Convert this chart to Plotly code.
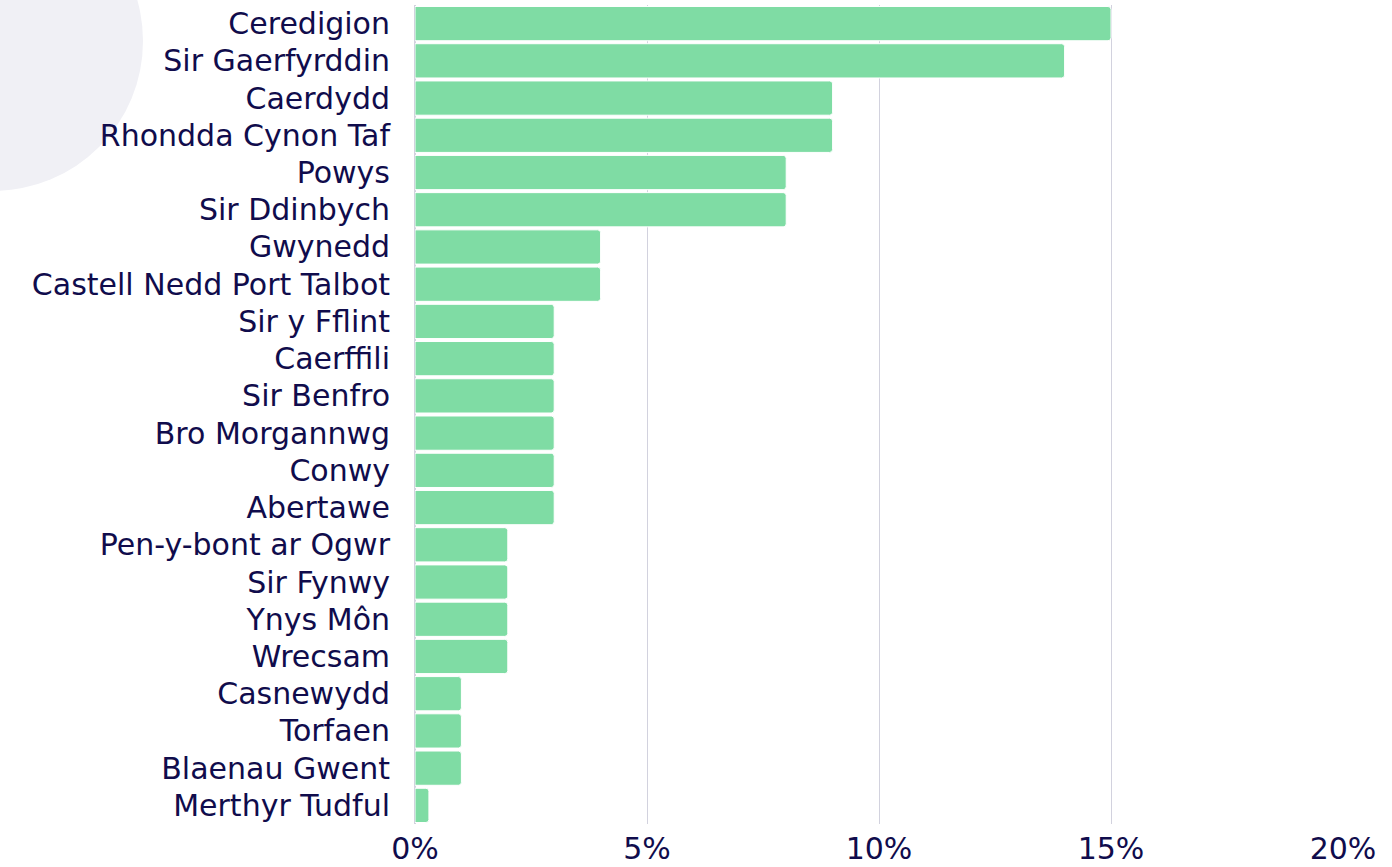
import plotly.graph_objects as go

# Welsh local authorities, top to bottom as shown
areas = [
    "Ceredigion", "Sir Gaerfyrddin", "Caerdydd", "Rhondda Cynon Taf", "Powys",
    "Sir Ddinbych", "Gwynedd", "Castell Nedd Port Talbot", "Sir y Fflint",
    "Caerffili", "Sir Benfro", "Bro Morgannwg", "Conwy", "Abertawe",
    "Pen-y-bont ar Ogwr", "Sir Fynwy", "Ynys Môn", "Wrecsam", "Casnewydd",
    "Torfaen", "Blaenau Gwent", "Merthyr Tudful",
]
share_pct = [15, 14, 9, 9, 8, 8, 4, 4, 3, 3, 3, 3, 3, 3, 2, 2, 2, 2, 1, 1, 1, 0.3]
x_ticks = [0, 5, 10, 15, 20]
x_tick_labels = ["0%", "5%", "10%", "15%", "20%"]

TEXT = "#100c4c"
BAR = "#7fdca4"
GRID = "#d2d2de"
FONT = "DejaVu Sans, Verdana, sans-serif"

fig = go.Figure(
    go.Bar(
        x=share_pct,
        y=areas,
        orientation="h",
        marker=dict(color=BAR, line=dict(color="#ffffff", width=1), cornerradius=3),
        hoverinfo="skip",
    )
)

# decorative grey circle peeking in from the top-left corner
fig.add_shape(
    type="circle",
    xref="paper", yref="paper",
    xsizemode="pixel", ysizemode="pixel",
    xanchor=0, yanchor=1,
    x0=-572, x1=-272, y0=-186, y1=114,
    fillcolor="#f0f0f5",
    line=dict(width=0),
    layer="below",
)

fig.update_layout(
    width=1392,
    height=867,
    margin=dict(l=415, r=49, t=5, b=43),
    paper_bgcolor="#ffffff",
    plot_bgcolor="rgba(0,0,0,0)",
    bargap=0.08,
    showlegend=False,
    font=dict(family=FONT, color=TEXT, size=30),
)
fig.update_xaxes(
    range=[0, 20],
    tickvals=x_ticks,
    ticktext=x_tick_labels,
    showgrid=True,
    gridcolor=GRID,
    gridwidth=1,
    zeroline=True,
    zerolinecolor=GRID,
    showline=False,
    ticklabelstandoff=4,
    automargin=False,
    tickfont=dict(size=30, color=TEXT),
    fixedrange=True,
)
fig.update_yaxes(
    categoryorder="array",
    categoryarray=areas,
    autorange="reversed",
    showgrid=False,
    ticklabelstandoff=24,
    automargin=False,
    tickfont=dict(size=30, color=TEXT),
    fixedrange=True,
)

# page has a default 8px body margin; drop it so the figure sits at 0,0
fig.write_html(
    "out.html",
    config={"displayModeBar": False},
    post_script="document.body.style.margin='0';",
)
